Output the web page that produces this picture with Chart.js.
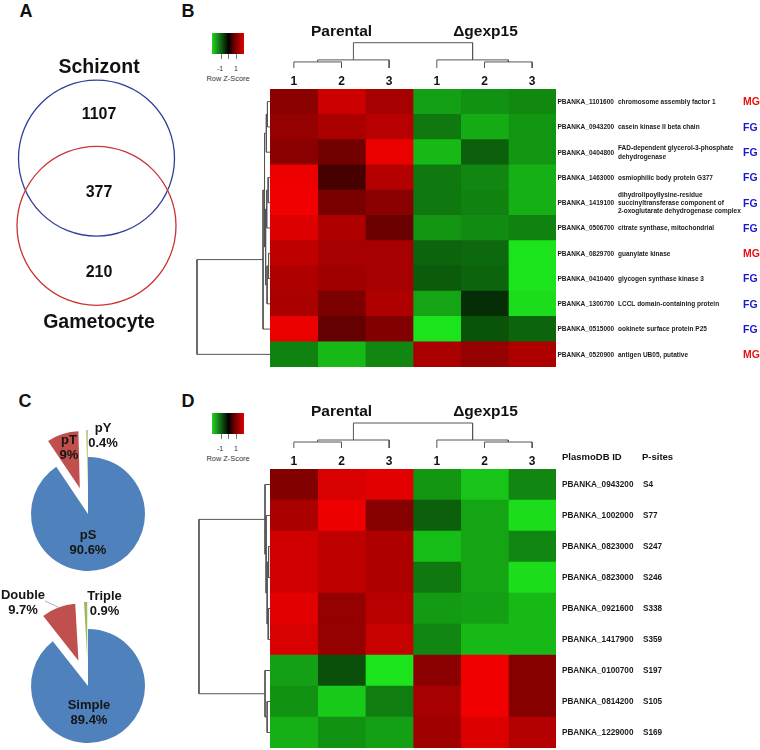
<!DOCTYPE html>
<html>
<head>
<meta charset="utf-8">
<script src="https://cdn.jsdelivr.net/npm/chart.js@4.4.0/dist/chart.umd.min.js"></script>
<style>
  body { margin: 0; width: 760px; height: 750px; background: #fff; position: relative; overflow: hidden;
         font-family: "Liberation Sans", Arial, sans-serif; }
  canvas { position: absolute; }
  .t { position: absolute; transform: translate(-50%, -50%); line-height: 1; white-space: nowrap; color: #111; }
  .letter { font-weight: bold; font-size: 18px; }
  .key { position: absolute; width: 32px; height: 21px;
         background: linear-gradient(to right, #24d424 0%, #0a3a0a 38%, #000 52%, #5a0000 66%, #e00000 100%); }
  .tick { position: absolute; width: 1px; height: 5px; background: #777; }
  .small { font-size: 7px; color: #333; }
</style>
</head>
<body>
<div class="t letter" style="left:26px;top:11px">A</div>
<div class="t letter" style="left:188px;top:11px">B</div>
<div class="t letter" style="left:25px;top:401px">C</div>
<div class="t letter" style="left:188px;top:401px">D</div>

<script>
// ---- data ----
const vennSets = ['Schizont', 'Gametocyte'];
const vennCounts = [1107, 377, 210]; // schizont only, both, gametocyte only

const siteLabels = ['pS', 'pT', 'pY'];
const siteShares = [90.6, 9, 0.4];
const multiLabels = ['Simple', 'Double', 'Triple'];
const multiShares = [89.4, 9.7, 0.9];
const pieColors = ['#4f81bd', '#c0504d', '#9bbb59'];

const sampleLabels = ['1', '2', '3', '1', '2', '3'];
const groupLabels = ['Parental', 'Δgexp15'];

const genesB = ['PBANKA_1101600', 'PBANKA_0943200', 'PBANKA_0404800', 'PBANKA_1463000', 'PBANKA_1419100',
  'PBANKA_0506700', 'PBANKA_0829700', 'PBANKA_0410400', 'PBANKA_1300700', 'PBANKA_0515000', 'PBANKA_0520900'];
const descB = ['chromosome assembly factor 1', 'casein kinase II beta chain',
  'FAD-dependent glycerol-3-phosphate\ndehydrogenase', 'osmiophilic body protein G377',
  'dihydrolipoyllysine-residue\nsuccinyltransferase component of\n2-oxoglutarate dehydrogenase complex',
  'citrate synthase, mitochondrial', 'guanylate kinase', 'glycogen synthase kinase 3',
  'LCCL domain-containing protein', 'ookinete surface protein P25', 'antigen UB05, putative'];
const stageB = ['MG', 'FG', 'FG', 'FG', 'FG', 'FG', 'MG', 'FG', 'FG', 'FG', 'MG'];
const heatB = [
  [0.58, 0.85, 0.69, -0.70, -0.64, -0.60],
  [0.62, 0.71, 0.77, -0.53, -0.75, -0.66],
  [0.58, 0.48, 0.98, -0.81, -0.42, -0.66],
  [0.99, 0.29, 0.75, -0.53, -0.59, -0.77],
  [1.00, 0.50, 0.58, -0.53, -0.57, -0.77],
  [0.92, 0.73, 0.44, -0.66, -0.61, -0.57],
  [0.79, 0.69, 0.69, -0.44, -0.46, -1.00],
  [0.73, 0.67, 0.69, -0.40, -0.44, -1.00],
  [0.71, 0.52, 0.73, -0.72, -0.20, -0.97],
  [0.98, 0.42, 0.54, -1.00, -0.37, -0.44],
  [-0.57, -0.81, -0.59, 0.71, 0.62, 0.73],
];

const genesD = ['PBANKA_0943200', 'PBANKA_1002000', 'PBANKA_0823000', 'PBANKA_0823000', 'PBANKA_0921600',
  'PBANKA_1417900', 'PBANKA_0100700', 'PBANKA_0814200', 'PBANKA_1229000'];
const sitesD = ['S4', 'S77', 'S247', 'S246', 'S338', 'S359', 'S197', 'S105', 'S169'];
const heatD = [
  [0.54, 0.90, 0.94, -0.66, -0.86, -0.59],
  [0.71, 0.99, 0.56, -0.42, -0.72, -0.97],
  [0.87, 0.79, 0.73, -0.83, -0.72, -0.59],
  [0.87, 0.79, 0.73, -0.53, -0.72, -0.97],
  [0.94, 0.62, 0.77, -0.68, -0.70, -0.81],
  [0.90, 0.62, 0.83, -0.59, -0.81, -0.81],
  [-0.70, -0.35, -1.00, 0.58, 1.00, 0.56],
  [-0.64, -0.88, -0.55, 0.69, 1.00, 0.56],
  [-0.77, -0.64, -0.70, 0.67, 0.92, 0.75],
];

// hclust style merges: negative = leaf (1-based), positive = earlier merge, then height
const colTree = [[-1, -2, 2.4], [1, -3, 3.2], [-5, -6, 2.4], [-4, 3, 3.2], [2, 4, 10]];
const rowTreeB = [[-1, -2, 0.35], [1, -3, 0.5], [-4, -5, 0.25], [3, -6, 0.45], [-7, -8, 0.2],
  [5, -9, 0.4], [4, 6, 0.6], [2, 7, 0.75], [8, -10, 0.95], [9, -11, 10]];
const rowTreeD = [[-3, -4, 0.2], [-5, -6, 0.25], [1, 2, 0.4], [-2, 3, 0.55], [-1, 4, 0.7],
  [-8, -9, 0.4], [-7, 6, 0.7], [5, 7, 10]];

// ---- helpers ----
const FONT = '"Liberation Sans", Arial, sans-serif';

function put(x, y, w, h) {
  const c = document.createElement('canvas');
  c.width = w; c.height = h;
  c.style.left = x + 'px'; c.style.top = y + 'px';
  document.body.appendChild(c);
  return c;
}

function capText(ctx, str, x, yMid, size, align, color) {
  ctx.font = `bold ${size}px ${FONT}`;
  ctx.fillStyle = color;
  ctx.textAlign = align;
  ctx.textBaseline = 'alphabetic';
  ctx.fillText(str, x, yMid + size * 0.36);
}

function zColor(v) {
  const t = Math.min(Math.abs(v), 1);
  return v >= 0 ? `rgb(${Math.round(240 * t)},0,0)`
                : `rgb(${Math.round(28 * t)},${Math.round(228 * t)},${Math.round(28 * t)})`;
}

function treeSegments(merges, leafAxis) {
  const pos = [], hgt = [], pts = [];
  const at = (p, h) => leafAxis === 'x' ? { x: p, y: h } : { x: h, y: p };
  merges.forEach(([a, b, h]) => {
    const pa = a < 0 ? -a - 1 : pos[a - 1], ha = a < 0 ? 0 : hgt[a - 1];
    const pb = b < 0 ? -b - 1 : pos[b - 1], hb = b < 0 ? 0 : hgt[b - 1];
    pts.push(at(pa, ha), at(pa, h), at(pb, h), at(pb, hb), { x: null, y: null });
    pos.push((pa + pb) / 2);
    hgt.push(h);
  });
  return pts;
}

const still = { legend: { display: false }, tooltip: { enabled: false } };
const flat = { padding: 0, autoPadding: false };

function dendro(canvas, tree, leafAxis, xs, ys) {
  return new Chart(canvas, {
    type: 'scatter',
    data: { datasets: [{ data: treeSegments(tree, leafAxis), showLine: true, pointRadius: 0,
      borderColor: '#555', borderWidth: 1, spanGaps: false, clip: false }] },
    options: { animation: false, responsive: false, events: [], plugins: still, layout: flat,
      scales: { x: Object.assign({ display: false }, xs), y: Object.assign({ display: false }, ys) } }
  });
}

function heatmap(canvas, values, padding, drawRows) {
  return new Chart(canvas, {
    type: 'bar',
    data: {
      labels: values.map((r, i) => i),
      datasets: sampleLabels.map((s, j) => ({
        label: s,
        data: values.map(() => 1),
        backgroundColor: values.map(r => zColor(r[j])),
        borderWidth: 0, barPercentage: 1, categoryPercentage: 1,
      }))
    },
    options: {
      indexAxis: 'y', animation: false, responsive: false, events: [], plugins: still,
      layout: { padding, autoPadding: false },
      scales: { x: { stacked: true, min: 0, max: sampleLabels.length, display: false },
                y: { stacked: true, display: false } }
    },
    plugins: [{
      id: 'heatText',
      afterDraw(chart) {
        const { ctx, chartArea: area, scales: { x, y } } = chart;
        sampleLabels.forEach((s, j) => capText(ctx, s, x.getPixelForValue(j + 0.5), area.top - 8.5, 12, 'center', '#111'));
        capText(ctx, groupLabels[0], x.getPixelForValue(1.5), area.top - 58.5, 15.5, 'center', '#111');
        capText(ctx, groupLabels[1], x.getPixelForValue(4.5) + 1, area.top - 58.5, 15.5, 'center', '#111');
        drawRows(ctx, area, y);
      }
    }]
  });
}

function zKey(top) {
  const k = document.createElement('div');
  k.className = 'key'; k.style.left = '212px'; k.style.top = top + 'px';
  document.body.appendChild(k);
  [221, 228, 236].forEach(x => {
    const t = document.createElement('div');
    t.className = 'tick'; t.style.left = x + 'px'; t.style.top = (top + 21) + 'px';
    document.body.appendChild(t);
  });
  [['-1', 220, top + 35], ['1', 236, top + 35], ['Row Z-Score', 228, top + 46]].forEach(([s, x, y]) => {
    const d = document.createElement('div');
    d.className = 't small'; d.textContent = s;
    d.style.left = x + 'px'; d.style.top = y + 'px';
    if (s.length > 2) d.style.fontSize = '7.4px';
    document.body.appendChild(d);
  });
}

// ---- A: Venn ----
new Chart(put(0, 23, 193, 338), {
  type: 'bubble',
  data: { datasets: [{
    data: [{ x: 0, y: 1, r: 78 }, { x: 0, y: 0, r: 79.5 }],
    backgroundColor: 'rgba(0,0,0,0)',
    borderColor: ['#2f3f9c', '#c83434'],
    borderWidth: 1.3, clip: false,
  }] },
  options: { animation: false, responsive: false, events: [], plugins: still, layout: flat,
    scales: { x: { min: -1, max: 1, display: false }, y: { min: -2, max: 3, display: false } } },
  plugins: [{
    id: 'vennText',
    afterDatasetsDraw(chart) {
      const { ctx, scales: { x, y } } = chart;
      const [a, b] = chart.data.datasets[0].data;
      const cx = x.getPixelForValue(a.x) + 2.5;
      const topA = y.getPixelForValue(a.y) - a.r, botA = y.getPixelForValue(a.y) + a.r;
      const topB = y.getPixelForValue(b.y) - b.r, botB = y.getPixelForValue(b.y) + b.r;
      capText(ctx, vennSets[0], cx, topA - 14, 19.5, 'center', '#111');
      capText(ctx, vennSets[1], cx, botB + 15.5, 19.5, 'center', '#111');
      capText(ctx, String(vennCounts[0]), cx, (topA + topB) / 2, 16, 'center', '#111');
      capText(ctx, String(vennCounts[1]), cx, (topB + botA) / 2, 16, 'center', '#111');
      capText(ctx, String(vennCounts[2]), cx, (botA + botB) / 2, 16, 'center', '#111');
    }
  }]
});

// ---- C: pies ----
// pull the small slices straight out along their bisector (Chart.js' own offset also narrows them)
function pie(canvas, labels, shares, explode, textAt, leaders) {
  return new Chart(canvas, {
    type: 'pie',
    data: { labels, datasets: [{ data: shares, backgroundColor: pieColors, borderWidth: 0, clip: false }] },
    options: { animation: false, responsive: false, events: [], plugins: still, layout: flat, radius: 57 },
    plugins: [{
      id: 'explode',
      afterDatasetUpdate(chart, args) {
        args.meta.data.forEach((arc, i) => {
          const mid = (arc.startAngle + arc.endAngle) / 2;
          arc.x += Math.cos(mid) * explode[i];
          arc.y += Math.sin(mid) * explode[i];
        });
      },
      afterDraw(chart) {
        const ctx = chart.ctx;
        const cx = (chart.chartArea.left + chart.chartArea.right) / 2;
        const cy = (chart.chartArea.top + chart.chartArea.bottom) / 2;
        ctx.strokeStyle = '#999'; ctx.lineWidth = 0.8;
        leaders.forEach(([x1, y1, x2, y2]) => {
          ctx.beginPath(); ctx.moveTo(cx + x1, cy + y1); ctx.lineTo(cx + x2, cy + y2); ctx.stroke();
        });
        labels.forEach((l, i) => {
          const [dx, dy] = textAt[i];
          capText(ctx, l, cx + dx, cy + dy, 13, 'center', '#151515');
          capText(ctx, shares[i] + '%', cx + dx, cy + dy + 15.5, 13, 'center', '#151515');
        });
      }
    }]
  });
}
pie(put(0, 410, 176, 208), siteLabels, siteShares, [0, 27, 27], [[0, 20], [-19, -75], [15, -87]], []);
pie(put(0, 582, 176, 208), multiLabels, multiShares, [0, 27, 27], [[1, 18], [-65, -92], [16.5, -91]], [[-43, -85, -30, -79]]);

// ---- B: heatmap of genes ----
zKey(33);
dendro(put(270, 40, 286, 28), colTree, 'x', { min: -0.5, max: 5.5 }, { min: 0, max: 11.07 });
dendro(put(195, 89, 75, 278), rowTreeB, 'y', { min: 0, max: 10.27, reverse: true },
  { min: -0.5, max: genesB.length - 0.5, reverse: true });
heatmap(put(270, 20, 490, 350), heatB, { top: 69, right: 204, bottom: 3, left: 0 }, (ctx, area, y) => {
  genesB.forEach((g, i) => {
    const yc = y.getPixelForValue(i);
    capText(ctx, g, area.right + 1.5, yc, 6.5, 'left', '#1a1a1a');
    const lines = descB[i].split('\n');
    lines.forEach((s, k) => capText(ctx, s, area.right + 62, yc + (k - (lines.length - 1) / 2) * 8.2, 6.5, 'left', '#1a1a1a'));
    capText(ctx, stageB[i], area.right + 187, yc, 10.5, 'left', stageB[i] === 'MG' ? '#e81010' : '#1a1ac8');
  });
});

// ---- D: heatmap of phosphosites ----
zKey(413);
dendro(put(270, 420, 286, 28), colTree, 'x', { min: -0.5, max: 5.5 }, { min: 0, max: 11.2 });
dendro(put(195, 469, 75, 279), rowTreeD, 'y', { min: 0, max: 10.56, reverse: true },
  { min: -0.5, max: genesD.length - 0.5, reverse: true });
heatmap(put(270, 400, 490, 350), heatD, { top: 69, right: 204, bottom: 2, left: 0 }, (ctx, area, y) => {
  capText(ctx, 'PlasmoDB ID', area.right + 6, area.top - 12, 9.5, 'left', '#111');
  capText(ctx, 'P-sites', area.right + 86, area.top - 12, 9.5, 'left', '#111');
  genesD.forEach((g, i) => {
    const yc = y.getPixelForValue(i);
    capText(ctx, g, area.right + 6, yc, 8.2, 'left', '#1a1a1a');
    capText(ctx, sitesD[i], area.right + 87, yc, 8.2, 'left', '#1a1a1a');
  });
});
</script>
</body>
</html>
